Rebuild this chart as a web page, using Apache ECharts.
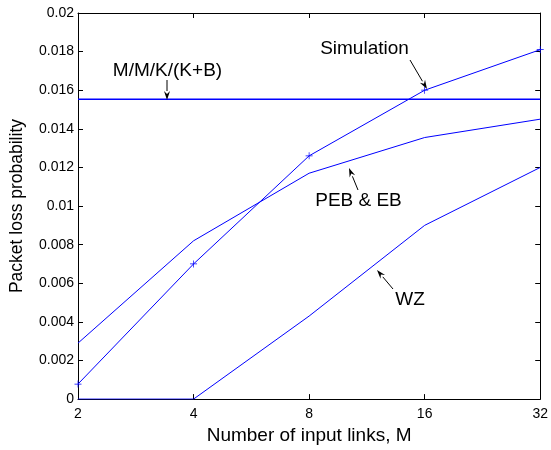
<!DOCTYPE html>
<html><head><meta charset="utf-8">
<script src="https://cdn.jsdelivr.net/npm/echarts@6/dist/echarts.min.js"></script>
<style>html,body{margin:0;padding:0;background:#fff}#c{width:551px;height:450px}</style>
</head><body><div id="c"></div>
<script>
const categories = ['2','4','8','16','32'];
const simulation = [0.00078, 0.0070, 0.0126, 0.0160, 0.0181];
const pebEb = [0.0029, 0.0082, 0.0117, 0.01355, 0.0145];
const wz = [0, 0, 0.0043, 0.0090, 0.0120];
const mmkb = [0.01553, 0.01553, 0.01553, 0.01553, 0.01553];
const yTicks = { min: 0, max: 0.02, interval: 0.002 };

const FONT = 'Liberation Sans';
const blue = '#0000ff';
const chart = echarts.init(document.getElementById('c'));
const plus = 'path://M4.5,0h1v10h-1zM0,4.5h10v1h-10z';

function arrow(x1, y1, x2, y2) {
  const dx = x2 - x1, dy = y2 - y1, L = Math.hypot(dx, dy);
  const ux = dx / L, uy = dy / L, hl = 9, hw = 3;
  const bx = x2 - ux * hl, by = y2 - uy * hl;
  return [
    { type: 'line', shape: { x1, y1, x2: bx, y2: by }, style: { stroke: '#000', lineWidth: 1 }, z: 100 },
    { type: 'polygon', shape: { points: [[x2, y2], [bx - uy * hw, by + ux * hw], [x2 - ux * (hl - 3), y2 - uy * (hl - 3)], [bx + uy * hw, by - ux * hw]] }, style: { fill: '#000' }, z: 100 }
  ];
}
function label(text, x, y) {
  return { type: 'text', x, y, style: { text, font: '19px "' + FONT + '"', fill: '#000', align: 'center', verticalAlign: 'middle' }, z: 100 };
}

function axisCommon() {
  return {
    axisLine: { show: true, onZero: false, lineStyle: { color: '#000', width: 1 } },
    axisTick: { show: true, inside: true, length: 5, alignWithLabel: true, lineStyle: { color: '#000' } },
    splitLine: { show: false }
  };
}

chart.setOption({
  animation: false,
  backgroundColor: '#fff',
  textStyle: { fontFamily: FONT },
  grid: { left: 76, right: 8, top: 13, bottom: 46 },
  xAxis: [
    Object.assign({
      type: 'category', data: categories, boundaryGap: false,
      name: 'Number of input links, M', nameLocation: 'middle', nameGap: 18,
      nameTextStyle: { fontSize: 19, color: '#000', fontFamily: FONT },
      axisLabel: { fontSize: 14, color: '#000', margin: 8, fontFamily: FONT }
    }, axisCommon()),
    Object.assign({
      type: 'category', data: categories, boundaryGap: false, position: 'top',
      axisLabel: { show: false }
    }, axisCommon())
  ],
  yAxis: [
    Object.assign({
      type: 'value', min: yTicks.min, max: yTicks.max, interval: yTicks.interval,
      name: 'Packet loss probability', nameLocation: 'middle', nameGap: 52,
      nameTextStyle: { fontSize: 17.5, color: '#000', fontFamily: FONT },
      axisLabel: { fontSize: 14, color: '#000', margin: 4, fontFamily: FONT,
        formatter: v => String(parseFloat(v.toFixed(4))) }
    }, axisCommon()),
    Object.assign({
      type: 'value', min: yTicks.min, max: yTicks.max, interval: yTicks.interval, position: 'right',
      axisLabel: { show: false }
    }, axisCommon())
  ],
  series: [
    { name: 'M/M/K/(K+B)', type: 'line', data: mmkb, symbol: 'none', lineStyle: { color: blue, width: 1.6 }, z: 3 },
    { name: 'Simulation', type: 'line', data: simulation, symbol: plus, symbolSize: 7, showSymbol: true,
      itemStyle: { color: blue }, lineStyle: { color: blue, width: 1 }, z: 4 },
    { name: 'PEB & EB', type: 'line', data: pebEb, symbol: 'none', lineStyle: { color: blue, width: 1 }, z: 3 },
    { name: 'WZ', type: 'line', data: wz, symbol: 'none', lineStyle: { color: blue, width: 1 }, z: 3 }
  ],
  graphic: [
    label('M/M/K/(K+B)', 167.5, 70.5),
    ...arrow(167, 80, 167, 100),
    label('Simulation', 364.5, 49),
    ...arrow(410, 60, 427, 89),
    label('PEB & EB', 358.5, 200.5),
    ...arrow(358, 190, 349, 168),
    label('WZ', 410, 299.5),
    ...arrow(393, 289, 377, 270)
  ]
});
</script></body></html>
